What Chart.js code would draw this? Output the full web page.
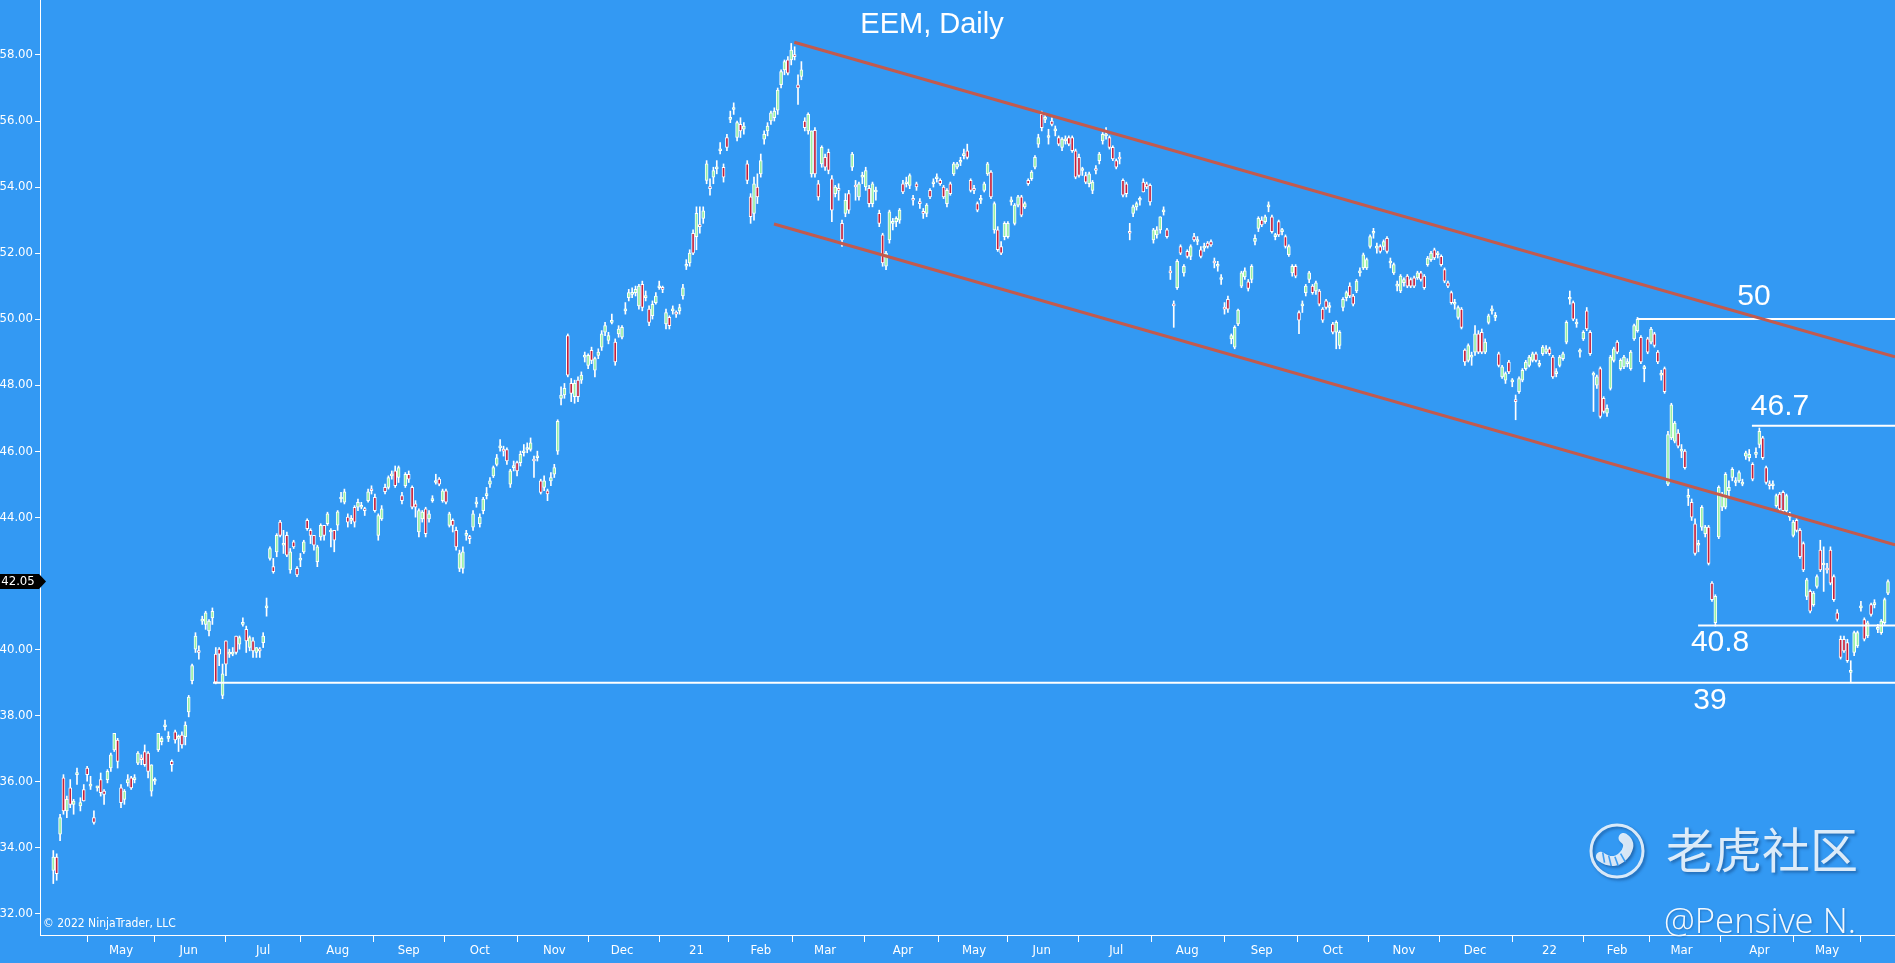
<!DOCTYPE html>
<html>
<head>
<meta charset="utf-8">
<title>EEM, Daily</title>
<script src="https://cdn.jsdelivr.net/npm/chart.js@4.4.1/dist/chart.umd.min.js"></script>
<style>
  html, body { margin: 0; padding: 0; background: #3399f3; overflow: hidden; }
  #wrap { position: relative; width: 1895px; height: 963px; }
</style>
</head>
<body>
<div id="wrap"><canvas id="c"></canvas></div>
<script>
'use strict';

/* ---- daily candles, [open, high, low, close], one array per month ---- */
var apr20 = [[33.30,33.90,32.90,33.70],[33.70,33.80,33.00,33.20],[34.40,35.00,34.20,34.90],[36.10,36.20,35.00,35.10],[35.10,35.55,34.90,35.45],
  [35.80,36.05,35.20,35.30],[35.30,35.45,35.00,35.40],[36.20,36.40,35.90,36.25],[35.25,35.50,35.10,35.35],[35.75,35.90,35.40,35.40],
  [36.40,36.45,36.00,36.20],[35.85,36.15,35.75,35.90],[34.90,35.10,34.70,34.75],[35.80,35.85,35.70,35.80],[36.05,36.25,35.55,35.65],
  [35.70,35.75,35.30,35.60],[36.05,36.35,35.95,36.30],[36.40,36.85,36.30,36.80],[36.95,37.45,36.90,37.45],[37.25,37.30,36.40,36.60]];
var may20 = [[35.80,35.90,35.20,35.35],[35.45,35.75,35.30,35.70],[35.95,36.20,35.85,36.05],[36.10,36.15,35.75,35.80],[36.05,36.20,35.95,36.10],
  [36.55,36.90,36.50,36.85],[36.70,36.80,36.50,36.65],[36.90,37.10,36.45,36.50],[36.85,36.90,36.10,36.30],[35.70,36.50,35.55,36.50],
  [36.00,36.10,35.90,36.00],[36.95,37.45,36.90,37.45],[37.20,37.35,37.10,37.30],[37.65,37.85,37.55,37.70],[37.30,37.50,37.20,37.35],
  [36.60,36.65,36.30,36.50],[37.50,37.55,37.15,37.25],[37.30,37.40,36.90,37.30],[37.40,37.50,37.00,37.10],[37.35,37.80,37.10,37.70]];
var jun20 = [[38.10,38.60,37.95,38.55],[39.05,39.55,38.95,39.50],[40.00,40.50,39.90,40.40],[39.95,40.10,39.70,39.90],[40.85,41.00,40.75,40.90],
  [40.75,41.15,40.60,41.10],[40.55,40.90,40.40,40.85],[40.95,41.25,40.75,41.15],[39.85,40.05,38.95,39.00],[40.00,40.05,39.50,39.85],
  [38.60,39.55,38.50,39.25],[40.25,40.25,39.20,39.55],[39.85,40.00,39.75,39.90],[39.85,40.05,39.80,39.90],[40.40,40.40,39.85,39.90],
  [40.15,40.40,40.00,40.35],[40.75,40.95,40.70,40.80],[40.60,40.70,39.90,40.25],[40.05,40.40,39.95,40.35],[40.25,40.35,39.75,39.95],
  [39.90,40.05,39.75,40.05],[40.00,40.05,39.75,39.95]];
var jul20 = [[40.20,40.50,40.05,40.40],[41.25,41.55,41.00,41.30],[42.75,43.10,42.70,43.05],[42.50,42.75,42.30,42.35],[42.95,43.50,42.80,43.45],
  [43.85,43.90,43.40,43.45],[43.15,43.60,42.90,43.20],[43.45,43.55,42.80,42.85],[42.40,43.05,42.30,42.95],[43.25,43.30,43.05,43.10],
  [42.45,42.50,42.20,42.25],[42.70,42.90,42.50,42.75],[42.95,43.30,42.90,43.25],[43.90,43.95,43.60,43.65],[43.60,43.65,43.20,43.45],
  [43.45,43.45,43.00,43.15],[42.65,43.15,42.50,43.10],[43.40,43.80,43.30,43.75],[43.75,43.75,43.30,43.45],[43.80,44.15,43.75,44.10],
  [43.55,43.65,43.10,43.60],[43.60,43.60,42.95,43.30]];
var aug20 = [[43.76,44.20,43.60,44.16],[44.55,44.75,44.45,44.60],[44.45,44.85,44.40,44.77],[44.00,44.10,43.70,43.85],[43.90,44.05,43.80,43.95],
  [44.30,44.35,43.70,43.85],[44.30,44.55,44.20,44.45],[44.30,44.45,44.25,44.35],[44.25,44.30,44.05,44.20],[44.50,44.85,44.45,44.77],
  [44.85,44.95,44.70,44.80],[44.60,44.70,44.15,44.20],[43.45,44.10,43.30,44.05],[43.95,44.35,43.90,44.25],[44.90,45.00,44.70,44.77],
  [44.90,45.25,44.85,45.20],[45.25,45.40,45.15,45.30],[45.40,45.55,44.90,44.95],[45.20,45.55,45.05,45.50],[44.65,44.75,44.40,44.50],
  [44.95,45.35,44.90,45.30]];
var sep20 = [[45.30,45.40,45.05,45.15],[44.90,44.95,44.25,44.30],[44.40,44.50,44.00,44.30],[43.55,44.25,43.40,44.20],[43.95,44.20,43.85,44.15],
  [44.25,44.30,43.40,43.50],[43.95,44.20,43.85,44.10],[44.50,44.65,44.45,44.55],[45.05,45.30,45.00,45.10],[45.15,45.20,44.95,45.00],
  [44.50,44.85,44.45,44.80],[44.80,44.85,44.40,44.45],[43.75,44.15,43.70,44.10],[43.90,43.95,43.55,43.75],[43.60,43.70,43.00,43.10],
  [42.45,43.00,42.35,42.90],[42.45,43.10,42.30,42.95],[43.45,43.60,43.30,43.50],[43.40,43.45,43.20,43.35],[43.70,44.20,43.60,44.10],
  [44.40,44.60,44.30,44.45]];
var oct20 = [[43.80,44.10,43.70,44.00],[44.20,44.60,44.10,44.55],[44.65,44.90,44.55,44.70],[45.00,45.20,44.90,45.10],[45.25,45.55,45.20,45.50],
  [45.60,45.90,45.55,45.80],[46.10,46.35,46.00,46.15],[46.05,46.15,45.85,46.00],[46.05,46.10,45.60,45.70],[45.00,45.45,44.90,45.40],
  [45.50,45.70,45.40,45.55],[45.65,45.70,45.25,45.40],[45.65,46.00,45.55,45.90],[45.95,46.20,45.85,46.00],[46.05,46.25,45.95,46.10],
  [46.05,46.40,46.00,46.25],[45.75,45.85,45.20,45.70],[45.80,46.00,45.70,45.85],[45.10,45.15,44.70,44.75],[44.90,45.25,44.80,45.10],
  [44.80,44.85,44.50,44.70],[45.10,45.35,44.95,45.20]];
var nov20 = [[45.30,45.60,45.20,45.50],[46.00,46.95,45.90,46.90],[47.60,47.95,47.40,47.70],[47.70,48.05,47.60,47.90],[49.50,49.55,48.25,48.30],
  [48.05,48.20,47.50,47.75],[47.65,48.15,47.45,48.05],[48.15,48.25,47.50,47.65],[48.15,48.40,48.05,48.30],[48.85,49.00,48.70,48.90],
  [48.60,48.95,48.50,48.90],[49.05,49.15,48.65,48.75],[48.45,48.85,48.25,48.80],[48.90,49.10,48.80,49.00],[49.15,49.65,49.05,49.55],
  [49.60,49.90,49.50,49.80],[49.35,49.60,49.25,49.50],[49.90,50.15,49.85,49.95],[49.30,49.40,48.60,48.70],[49.55,49.80,49.45,49.70]];
var dec20 = [[49.45,49.80,49.40,49.75],[50.25,50.50,50.15,50.30],[50.65,50.90,50.55,50.80],[50.75,50.95,50.65,50.80],[50.80,51.00,50.70,50.90],
  [50.40,51.05,50.30,51.00],[51.05,51.15,50.25,50.35],[50.65,50.85,50.55,50.70],[50.30,50.40,49.80,49.90],[50.10,50.55,50.00,50.45],
  [50.50,50.80,50.45,50.70],[50.95,51.15,50.90,51.00],[50.95,51.00,50.80,50.90],[49.85,50.30,49.70,50.20],[50.05,50.10,49.70,49.80],
  [50.25,50.40,50.15,50.30],[50.20,50.25,50.05,50.15],[50.25,50.45,50.15,50.35],[50.70,51.05,50.60,50.95],[51.60,51.80,51.50,51.65],
  [51.70,52.10,51.60,52.00],[52.60,52.70,51.95,52.00]];
var jan21 = [[52.50,53.40,52.10,53.20],[52.85,53.40,52.60,52.80],[53.05,53.40,52.90,53.28],[54.20,54.80,54.10,54.70],[54.00,54.25,53.75,53.95],
  [54.30,54.60,54.10,54.50],[54.55,54.80,54.40,54.60],[55.10,55.35,55.00,55.15],[54.60,54.70,54.15,54.30],[55.50,55.60,55.10,55.20],
  [56.05,56.30,55.95,56.10],[56.35,56.55,56.20,56.40],[55.50,56.00,55.40,55.95],[55.90,56.10,55.50,55.70],[55.75,55.95,55.60,55.85],
  [54.70,54.80,54.10,54.20],[53.70,53.80,52.90,53.10],[53.20,54.30,53.00,54.10],[54.00,54.40,53.50,53.70]];
var feb21 = [[54.40,55.00,54.30,54.80],[55.45,55.70,55.30,55.60],[55.70,55.95,55.55,55.85],[56.00,56.30,55.90,56.25],[56.10,56.40,56.00,56.30],
  [56.33,57.00,56.20,56.94],[57.10,57.55,57.00,57.50],[57.55,57.85,57.40,57.80],[57.85,57.95,57.40,57.45],[57.85,58.35,57.70,58.15],
  [58.00,58.25,57.85,57.95],[57.10,57.40,56.50,57.00],[57.35,57.80,57.25,57.55],[56.00,56.10,55.70,55.80],[55.70,56.25,55.60,56.20],
  [54.40,55.70,54.30,55.70],[55.72,55.80,54.30,54.40],[54.10,54.20,53.60,53.70],[54.70,55.25,54.60,55.20]];
var mar21 = [[54.90,55.00,54.50,54.60],[55.05,55.15,54.40,54.50],[54.25,54.35,52.95,53.30],[53.80,54.05,53.70,54.00],[53.95,54.10,53.60,53.90],
  [52.90,53.00,52.20,52.40],[53.20,53.80,53.10,53.60],[53.80,53.90,53.20,53.30],[54.60,55.05,54.50,55.00],[54.05,54.20,53.60,54.00],
  [53.70,54.15,53.60,54.10],[54.30,54.45,54.10,54.30],[54.00,54.60,53.90,54.50],[53.96,54.05,53.40,53.50],[53.50,54.15,53.40,54.10],
  [53.85,54.00,53.60,53.85],[53.20,53.30,52.80,52.90],[52.55,52.60,51.60,51.70],[51.60,52.05,51.50,52.00],[52.40,53.30,52.30,53.25],
  [52.90,53.05,52.70,52.90],[52.95,53.10,52.80,53.05],[53.00,53.35,52.90,53.30]];
var apr21 = [[54.10,54.20,53.80,53.85],[54.10,54.30,54.00,54.15],[54.05,54.40,53.95,54.35],[53.65,53.75,53.45,53.60],[54.10,54.15,53.90,54.00],
  [53.55,53.65,53.35,53.50],[53.25,53.35,53.05,53.20],[53.20,53.50,53.10,53.45],[53.90,53.95,53.65,53.70],[54.10,54.25,54.00,54.15],
  [54.25,54.40,54.15,54.30],[54.20,54.25,54.05,54.10],[54.00,54.05,53.65,53.70],[53.50,53.95,53.40,53.90],[54.10,54.15,53.75,53.80],
  [54.40,54.75,54.35,54.70],[54.60,54.75,54.55,54.70],[54.75,54.90,54.65,54.80],[54.95,55.15,54.85,55.00],[55.10,55.30,54.85,54.90],
  [54.20,54.25,53.85,53.90]];
var may21 = [[53.95,54.05,53.80,53.90],[53.50,53.55,53.25,53.30],[53.60,53.75,53.50,53.60],[53.90,54.15,53.85,54.10],[54.40,54.75,54.35,54.70],
  [54.45,54.50,53.65,53.70],[52.70,53.55,52.60,53.50],[52.70,52.80,52.05,52.10],[52.20,52.35,51.95,52.00],[52.50,52.95,52.40,52.90],
  [52.50,52.95,52.45,52.90],[53.55,53.70,53.45,53.60],[52.90,53.50,52.85,53.45],[53.45,53.75,53.40,53.70],[53.70,53.75,53.10,53.15],
  [53.40,53.55,53.35,53.50],[54.20,54.25,54.05,54.10],[54.25,54.50,54.20,54.45],[54.60,54.95,54.55,54.90],[55.30,55.60,55.20,55.50]];
var jun21 = [[56.20,56.30,55.70,55.80],[56.05,56.20,55.95,56.10],[55.50,55.75,55.30,55.50],[56.00,56.10,55.85,55.90],[55.70,55.85,55.55,55.70],
  [55.50,55.55,55.25,55.30],[55.20,55.50,55.10,55.45],[55.40,55.55,55.30,55.40],[55.50,55.55,55.25,55.30],[55.50,55.55,55.05,55.10],
  [55.10,55.15,54.25,54.30],[54.90,55.00,54.30,54.35],[54.50,54.60,54.35,54.50],[54.35,54.45,54.10,54.15],[54.10,54.45,54.00,54.40],
  [53.90,54.20,53.80,54.15],[54.55,54.65,54.40,54.50],[54.80,55.05,54.70,55.00],[55.40,55.65,55.30,55.60],[55.55,55.80,55.45,55.55],
  [55.50,55.55,55.15,55.20],[55.20,55.25,54.80,54.85]];
var jul21 = [[54.80,54.85,54.55,54.60],[54.90,55.05,54.70,54.85],[54.20,54.25,53.70,53.75],[54.10,54.15,53.70,53.80],[52.65,52.90,52.40,52.60],
  [53.20,53.45,53.10,53.40],[53.40,53.55,53.30,53.50],[53.60,53.70,53.45,53.60],[54.15,54.25,53.85,53.85],[54.10,54.15,53.95,54.00],
  [54.05,54.10,53.45,53.55],[52.40,52.75,52.30,52.70],[52.55,52.80,52.45,52.70],[52.70,53.10,52.60,53.10],[53.25,53.40,53.15,53.30],
  [52.70,52.75,52.45,52.50],[51.45,51.60,51.20,51.40],[50.45,50.55,49.75,50.40],[50.95,51.80,50.90,51.75],[52.20,52.25,51.95,52.00],
  [51.40,51.65,51.30,51.60]];
var aug21 = [[52.05,52.10,51.85,51.90],[51.90,52.25,51.80,52.20],[52.50,52.60,52.35,52.40],[52.35,52.50,52.25,52.40],[52.10,52.20,51.85,51.90],
  [52.15,52.30,52.05,52.20],[52.30,52.35,52.15,52.20],[52.35,52.40,52.20,52.25],[51.75,51.85,51.55,51.70],[51.60,51.75,51.45,51.60],
  [51.20,51.35,51.05,51.20],[50.35,50.50,50.15,50.30],[50.60,50.70,50.20,50.30],[49.40,49.55,49.25,49.50],[49.15,49.80,49.10,49.75],
  [49.85,50.30,49.80,50.27],[51.00,51.45,50.95,51.40],[51.28,51.55,51.20,51.46],[51.13,51.20,50.85,50.93],[51.20,51.65,51.10,51.60],
  [52.35,52.55,52.25,52.45],[52.75,53.10,52.65,53.05]];
var sep21 = [[53.00,53.10,52.80,52.85],[52.95,53.15,52.90,53.10],[53.40,53.55,53.25,53.40],[53.10,53.15,52.60,52.65],[52.50,52.60,52.40,52.50],
  [52.95,53.00,52.50,52.55],[52.65,52.75,52.55,52.65],[52.50,52.55,52.15,52.20],[51.95,52.25,51.90,52.20],[51.40,51.65,51.30,51.60],
  [51.60,51.65,51.25,51.30],[50.20,50.25,49.56,49.97],[50.40,50.55,50.20,50.40],[50.80,51.05,50.70,51.00],[51.20,51.45,51.10,51.40],
  [51.00,51.05,50.75,50.80],[50.85,51.15,50.75,51.10],[50.85,50.90,50.40,50.45],[50.30,50.35,49.90,49.97],[50.55,50.60,50.30,50.35],
  [50.35,50.50,50.20,50.35]];
var oct21 = [[49.85,49.90,49.55,49.60],[49.60,49.95,49.10,49.90],[49.20,49.65,49.10,49.60],[50.35,50.65,50.25,50.60],[50.65,50.85,50.55,50.80],
  [51.00,51.10,50.65,50.70],[50.70,50.75,50.40,50.45],[50.85,51.20,50.80,51.15],[51.40,51.55,51.30,51.40],[51.55,52.00,51.50,51.95],
  [51.55,51.85,51.50,51.80],[52.20,52.55,52.15,52.50],[52.60,52.75,52.45,52.60],[52.15,52.30,52.00,52.15],[52.20,52.25,52.00,52.05],
  [52.20,52.40,52.10,52.35],[52.45,52.50,52.00,52.05],[51.70,51.85,51.55,51.70],[51.40,51.70,51.35,51.65],[51.00,51.15,50.85,51.00],
  [50.85,51.35,50.80,51.30]];
var nov21 = [[51.10,51.25,51.00,51.20],[51.30,51.35,50.95,51.00],[51.20,51.25,50.95,51.00],[51.25,51.30,50.95,51.00],[51.25,51.45,51.20,51.40],
  [51.40,51.45,51.15,51.20],[51.30,51.35,50.90,50.95],[51.65,51.90,51.60,51.85],[51.80,52.05,51.75,52.00],[52.10,52.15,51.80,51.85],
  [51.95,52.05,51.85,51.97],[51.90,51.95,51.60,51.65],[51.50,51.55,51.10,51.15],[51.10,51.15,50.95,51.00],[50.80,50.85,50.45,50.50],
  [50.45,50.60,50.30,50.45],[50.05,50.40,50.00,50.35],[50.30,50.35,49.70,49.75],[49.06,49.10,48.60,48.70],[48.75,49.25,48.70,49.20],
  [48.85,49.00,48.60,48.85]];
var dec21 = [[49.00,49.80,48.90,49.55],[49.55,49.65,48.95,49.00],[49.60,49.70,48.95,49.00],[49.00,49.40,48.95,49.30],[49.90,50.15,49.85,50.10],
  [50.25,50.40,50.15,50.30],[50.05,50.20,49.95,50.10],[48.95,49.00,48.55,48.60],[48.25,48.60,48.20,48.55],[48.15,48.40,48.05,48.35],
  [48.70,48.75,48.35,48.40],[48.10,48.20,47.95,48.10],[47.55,47.70,46.95,47.50],[47.80,48.25,47.75,48.20],[48.15,48.50,48.10,48.45],
  [48.50,48.75,48.45,48.70],[48.60,48.90,48.55,48.85],[48.75,49.00,48.70,48.95],[48.95,49.00,48.70,48.75],[48.60,48.75,48.55,48.65],
  [48.95,49.20,48.90,49.15],[49.00,49.20,48.95,49.10]];
var jan22 = [[49.10,49.15,48.90,48.95],[48.85,48.90,48.20,48.25],[48.35,48.50,48.25,48.40],[48.60,48.90,48.55,48.85],[48.80,49.00,48.75,48.95],
  [49.30,49.95,49.25,49.90],[50.60,50.85,50.45,50.66],[50.50,50.55,49.95,50.00],[49.85,50.00,49.75,49.90],[49.00,49.10,48.85,49.00],
  [49.40,49.65,49.35,49.60],[50.25,50.35,49.65,49.70],[49.60,49.65,48.90,48.95],[48.30,48.40,47.20,48.30],[48.00,48.30,47.90,48.25],
  [48.50,48.55,47.00,47.05],[47.60,47.65,47.15,47.20],[47.15,47.40,47.05,47.30],[47.90,48.90,47.85,48.85],[48.75,49.15,48.70,49.10]];
var feb22 = [[49.30,49.35,48.95,49.00],[48.50,48.80,48.45,48.75],[48.55,48.90,48.50,48.85],[48.65,48.80,48.55,48.70],[48.50,49.05,48.45,49.00],
  [49.40,49.85,49.35,49.80],[49.65,50.05,49.60,50.00],[49.45,49.50,48.65,48.70],[48.50,48.60,48.10,48.50],[49.40,49.45,48.95,49.00],
  [49.30,49.75,49.25,49.70],[49.55,49.60,49.15,49.20],[49.00,49.05,48.65,48.70],[48.30,48.45,48.15,48.30],[48.50,48.55,47.75,47.80],
  [45.00,46.60,44.95,46.50],[46.40,47.45,46.35,47.40],[46.30,46.90,46.25,46.85],[46.55,46.65,46.10,46.15]];
var mar22 = [[46.00,46.20,45.80,46.00],[46.00,46.05,45.45,45.50],[44.60,44.85,44.35,44.60],[44.45,44.55,43.90,44.00],[43.80,43.95,42.85,42.90],
  [43.15,43.30,42.95,43.15],[43.70,44.35,43.60,44.30],[43.50,43.75,43.40,43.70],[43.70,43.75,42.55,42.60],[42.00,42.05,41.45,41.50],
  [40.80,41.65,40.70,41.60],[43.40,44.95,43.35,44.90],[44.30,44.75,44.20,44.70],[44.30,45.35,44.25,45.30],[44.80,45.10,44.60,44.90],
  [45.20,45.50,45.10,45.45],[45.05,45.20,44.95,45.10],[45.10,45.40,45.05,45.35],[45.00,45.15,44.95,45.05],[45.85,46.00,45.75,45.95],
  [45.80,46.05,45.70,45.90],[45.60,45.65,45.10,45.15],[45.90,46.10,45.80,45.95]];
var apr22 = [[46.20,46.70,46.10,46.60],[46.40,46.45,45.75,45.80],[45.50,45.55,45.00,45.05],[45.00,45.10,44.85,44.95],[44.95,45.10,44.85,45.00],
  [44.35,44.70,44.30,44.65],[44.70,44.75,44.20,44.25],[44.75,44.80,44.15,44.20],[44.20,44.70,44.15,44.65],[44.00,44.15,43.90,44.05],
  [43.45,43.90,43.40,43.85],[43.90,43.95,43.55,43.60],[43.60,43.65,42.75,42.80],[43.20,43.25,42.35,42.40],[41.60,42.15,41.50,42.10],
  [41.75,41.80,41.10,41.15],[41.35,41.75,41.30,41.70],[41.90,42.25,41.85,42.20],[43.00,43.30,42.35,42.40],[42.55,43.10,41.75,42.60]];
var may22 = [[42.45,42.60,42.30,42.40],[43.00,43.10,41.95,42.00],[42.20,42.25,41.45,41.50],[41.10,41.20,40.85,40.90],[40.30,40.40,39.70,39.75],
  [40.30,40.40,39.90,39.95],[40.20,40.30,39.60,39.65],[39.30,39.65,39.00,39.35],[39.90,40.55,39.80,40.50],[40.10,40.55,40.05,40.50],
  [41.25,41.45,41.15,41.30],[40.90,40.95,40.25,40.30],[40.40,40.85,40.35,40.80],[41.35,41.40,41.00,41.05],[41.35,41.50,41.25,41.40],
  [40.60,40.75,40.50,40.60],[40.50,40.90,40.45,40.85],[40.80,41.55,40.75,41.50],[41.70,42.10,41.65,42.05]];

var MONTHS = [apr20, may20, jun20, jul20, aug20, sep20, oct20, nov20, dec20,
  jan21, feb21, mar21, apr21, may21, jun21, jul21, aug21, sep21, oct21, nov21, dec21,
  jan22, feb22, mar22, apr22, may22];
var MONTH_LABELS = ['', 'May', 'Jun', 'Jul', 'Aug', 'Sep', 'Oct', 'Nov', 'Dec',
  '21', 'Feb', 'Mar', 'Apr', 'May', 'Jun', 'Jul', 'Aug', 'Sep', 'Oct', 'Nov', 'Dec',
  '22', 'Feb', 'Mar', 'Apr', 'May'];
var Y_TICKS = [32, 34, 36, 38, 40, 42, 44, 46, 48, 50, 52, 54, 56, 58];
var LAST_PRICE = 42.05;

// drawn lines, in bar index / price units
var CHANNEL_TOP = [[218.9, 58.385], [544.07, 48.86]];
var CHANNEL_BOTTOM = [[212.9, 52.88], [544.07, 43.16]];
var LEVELS = [
  { value: 50.00, from: 467.9, text: '50' },
  { value: 46.77, from: 501.8, text: '46.7' },
  { value: 40.72, from: 485.9, text: '40.8' },
  { value: 38.98, from: 47.2,  text: '39' }
];
// where each level's number sits: bar index of its centre, pixel shift from the line
var LEVEL_TEXT_POS = [[502.4, -22], [510.1, -19], [492.4, 17], [489.4, 18]];

var X_MIN = -3.93, X_MAX = 544.07;
var Y_MIN = 31.342, Y_MAX = 59.666;
var BG = '#3399f3';
var UP_FILL = '#98f0a4', DOWN_FILL = '#c4203c';
var CHANNEL_COLOR = '#c25a4e';

/* ---- build ---- */
var candles = [];
var monthStart = [];
MONTHS.forEach(function (m) { monthStart.push(candles.length); candles = candles.concat(m); });

function pickFont(list, size) {
  var ctx = document.createElement('canvas').getContext('2d');
  ctx.font = size + 'px monospace';
  var ref = ctx.measureText('58.00 May NinjaTrader').width;
  for (var i = 0; i < list.length; i++) {
    ctx.font = size + 'px "' + list[i] + '", monospace';
    if (Math.abs(ctx.measureText('58.00 May NinjaTrader').width - ref) > 0.5) return list[i];
  }
  return 'Arial';
}
var NARROW = pickFont(['Liberation Sans Narrow', 'Arial Narrow', 'DejaVu Sans Condensed'], 13);
var AXIS_SIZE = NARROW === 'Arial' ? 11 : 13;

var wickData = candles.map(function (c, i) { return { x: i, y: [c[2], c[1]] }; });
var bodyData = candles.map(function (c, i) { return { x: i, y: [Math.min(c[0], c[3]), Math.max(c[0], c[3])] }; });
var bodyFill = candles.map(function (c) { return c[3] >= c[0] ? UP_FILL : DOWN_FILL; });

function seg(a, b) { return [{ x: a[0], y: a[1] }, { x: b[0], y: b[1] }]; }
function lineSet(data, color, w) {
  return { type: 'line', data: data, borderColor: color, borderWidth: w, pointRadius: 0, fill: false, order: 0 };
}

var datasets = [
  { type: 'bar', data: wickData, backgroundColor: '#ffffff', borderWidth: 0, barThickness: 1, grouped: false, order: 3 },
  { type: 'bar', data: bodyData, backgroundColor: bodyFill, borderColor: '#ffffff', borderWidth: 1,
    borderSkipped: false, barThickness: 3, minBarLength: 2, grouped: false, order: 2 },
  lineSet(seg(CHANNEL_TOP[0], CHANNEL_TOP[1]), CHANNEL_COLOR, 3),
  lineSet(seg(CHANNEL_BOTTOM[0], CHANNEL_BOTTOM[1]), CHANNEL_COLOR, 3)
];
LEVELS.forEach(function (l) {
  datasets.push(lineSet(seg([l.from, l.value], [X_MAX, l.value]), '#ffffff', 2));
});

/* ---- overlay texts and marks ---- */
var backdrop = {
  id: 'backdrop',
  beforeDraw: function (chart) {
    var ctx = chart.ctx;
    ctx.save();
    ctx.fillStyle = BG;
    ctx.fillRect(0, 0, chart.width, chart.height);
    ctx.restore();
  }
};

function drawLogo(ctx, cx, cy, r) {
  ctx.save();
  ctx.strokeStyle = 'rgba(236,244,252,0.9)';
  ctx.lineWidth = 3;
  ctx.beginPath(); ctx.arc(cx, cy, r, 0, Math.PI * 2); ctx.stroke();
  // curled tail: a thick band bending from lower left up to the right
  ctx.lineCap = 'round';
  ctx.lineWidth = 10;
  ctx.beginPath();
  ctx.moveTo(cx - r * 0.62, cy + r * 0.22);
  ctx.quadraticCurveTo(cx - r * 0.05, cy + r * 0.62, cx + r * 0.35, cy + r * 0.05);
  ctx.quadraticCurveTo(cx + r * 0.55, cy - r * 0.3, cx + r * 0.25, cy - r * 0.5);
  ctx.stroke();
  ctx.shadowColor = 'transparent';
  ctx.strokeStyle = 'rgba(51,153,243,0.95)';
  ctx.lineWidth = 1.6;
  ctx.lineCap = 'butt';
  [[-0.55, 0.05, -0.48, 0.45], [-0.32, 0.18, -0.22, 0.58], [-0.08, 0.22, 0.05, 0.58], [0.14, 0.1, 0.32, 0.42]].forEach(function (s) {
    ctx.beginPath();
    ctx.moveTo(cx + r * s[0], cy + r * s[1]);
    ctx.lineTo(cx + r * s[2], cy + r * s[3]);
    ctx.stroke();
  });
  ctx.restore();
}

var overlay = {
  id: 'overlay',
  afterDraw: function (chart) {
    var ctx = chart.ctx, xs = chart.scales.x, ys = chart.scales.y;
    ctx.save();
    ctx.fillStyle = '#ffffff';

    ctx.font = '29px Arial, "Liberation Sans", sans-serif';
    ctx.textAlign = 'center';
    ctx.textBaseline = 'alphabetic';
    ctx.fillText('EEM, Daily', 932, 33);

    ctx.font = '30px Arial, "Liberation Sans", sans-serif';
    ctx.textBaseline = 'middle';
    LEVELS.forEach(function (l, k) {
      var p = LEVEL_TEXT_POS[k];
      ctx.fillText(l.text, xs.getPixelForValue(p[0]), ys.getPixelForValue(l.value) + p[1]);
    });

    // last price flag on the price axis
    var py = ys.getPixelForValue(LAST_PRICE);
    ctx.fillStyle = '#000000';
    ctx.beginPath();
    ctx.moveTo(0, py - 7.5); ctx.lineTo(39, py - 7.5); ctx.lineTo(46, py);
    ctx.lineTo(39, py + 7.5); ctx.lineTo(0, py + 7.5); ctx.closePath(); ctx.fill();
    ctx.fillStyle = '#ffffff';
    ctx.font = AXIS_SIZE + 'px "' + NARROW + '", Arial, sans-serif';
    ctx.textAlign = 'center';
    ctx.fillText(LAST_PRICE.toFixed(2), 18, py + 0.5);

    ctx.font = (AXIS_SIZE - 1) + 'px "' + NARROW + '", Arial, sans-serif';
    ctx.textAlign = 'left';
    ctx.textBaseline = 'alphabetic';
    ctx.fillText('\u00a9 2022 NinjaTrader, LLC', 43, 927);

    // watermark
    ctx.shadowColor = 'rgba(10,40,90,0.45)';
    ctx.shadowOffsetX = 2; ctx.shadowOffsetY = 2; ctx.shadowBlur = 3;
    drawLogo(ctx, 1617, 851, 26);
    ctx.fillStyle = 'rgba(236,244,252,0.92)';
    ctx.font = '48px "Noto Sans CJK SC", sans-serif';
    ctx.textBaseline = 'middle';
    ctx.fillText('老虎社区', 1666, 850);
    ctx.shadowColor = 'rgba(10,40,90,0.3)';
    ctx.shadowOffsetX = 1; ctx.shadowOffsetY = 1; ctx.shadowBlur = 2;
    ctx.fillStyle = 'rgba(255,255,255,0.95)';
    ctx.font = '300 35px "Open Sans", "Noto Sans", sans-serif';
    ctx.textBaseline = 'alphabetic';
    var w = ctx.measureText('@Pensive N.').width;
    ctx.save();
    ctx.translate(1664, 933);
    ctx.scale(192 / w, 1);
    ctx.fillText('@Pensive N.', 0, 0);
    ctx.restore();
    ctx.restore();
  }
};

var axisFont = { family: '"' + NARROW + '", Arial, sans-serif', size: AXIS_SIZE };

function noPadding(s) { s.paddingTop = 0; s.paddingBottom = 0; s.paddingLeft = 0; s.paddingRight = 0; }

new Chart(document.getElementById('c'), {
  type: 'bar',
  data: { datasets: datasets },
  options: {
    responsive: true,
    maintainAspectRatio: false,
    animation: false,
    events: [],
    layout: { padding: 0 },
    plugins: { legend: { display: false }, tooltip: { enabled: false } },
    scales: {
      x: {
        type: 'linear', min: X_MIN, max: X_MAX, offset: false,
        afterBuildTicks: function (s) { s.ticks = monthStart.slice(1).map(function (v) { return { value: v }; }); },
        afterFit: function (s) { s.height = 28; noPadding(s); },
        ticks: {
          autoSkip: false, maxRotation: 0, color: '#ffffff', font: axisFont, padding: 1,
          callback: function (v) { var k = monthStart.indexOf(v); return k >= 0 ? MONTH_LABELS[k] : ''; }
        },
        grid: { display: true, drawOnChartArea: false, drawTicks: true, tickLength: 7, color: '#ffffff' },
        border: { display: true, color: '#ffffff', width: 1 }
      },
      y: {
        type: 'linear', position: 'left', min: Y_MIN, max: Y_MAX,
        afterBuildTicks: function (s) { s.ticks = Y_TICKS.map(function (v) { return { value: v }; }); },
        afterFit: function (s) { s.width = 40; noPadding(s); },
        ticks: { color: '#ffffff', font: axisFont, padding: 2, callback: function (v) { return v.toFixed(2); } },
        grid: { display: true, drawOnChartArea: false, drawTicks: true, tickLength: 5, color: '#ffffff' },
        border: { display: true, color: '#ffffff', width: 1 }
      }
    }
  },
  plugins: [backdrop, overlay]
});
</script>
</body>
</html>
